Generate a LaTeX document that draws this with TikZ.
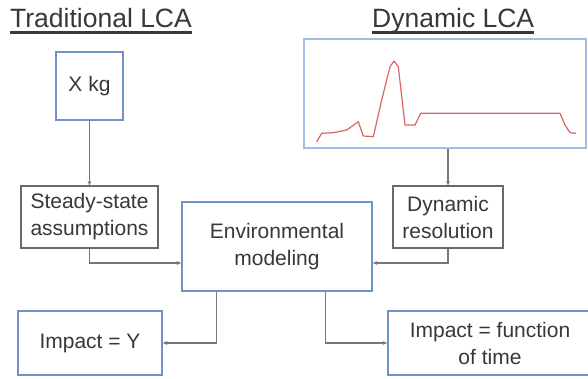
\documentclass[tikz,border=0pt]{standalone}
\usepackage{fontspec}
\setmainfont{Liberation Sans}
\usetikzlibrary{arrows.meta}
\definecolor{boxblue}{RGB}{112,146,200}
\definecolor{paleblue}{RGB}{160,190,228}
\definecolor{boxgray}{RGB}{105,105,105}
\definecolor{txtgray}{RGB}{55,55,60}
\definecolor{curvered}{RGB}{222,100,100}
\begin{document}
\begin{tikzpicture}[x=1pt, y=-1pt,
  bluebox/.style={draw=boxblue, line width=1.8pt, align=center, inner sep=0pt},
  graybox/.style={draw=boxgray, line width=1.3pt, align=center, inner sep=0pt},
  link/.style={draw=boxgray!90, line width=1.1pt, -{Stealth[length=4.5pt,width=4pt]}}]
\tikzstyle{every node}+=[text=txtgray, font=\fontsize{21}{27}\selectfont]
\clip (0,0) rectangle (588,378);
% titles
\node[anchor=base west, inner sep=0pt, font=\fontsize{26.5}{30}\selectfont] (ttrad) at (10,27) {Traditional LCA};
\node[anchor=base west, inner sep=0pt, font=\fontsize{26.5}{30}\selectfont] (tdyn) at (372,27) {Dynamic LCA};
\draw[txtgray, line width=2.4pt] ([yshift=-5.5pt]ttrad.base west) -- ([yshift=-5.5pt]ttrad.base east);
\draw[txtgray, line width=2.4pt] ([yshift=-5.5pt]tdyn.base west) -- ([yshift=-5.5pt]tdyn.base east);
% boxes
\node[bluebox, minimum width=67pt, minimum height=68pt] (xkg) at (89.5,86) {X kg};
\node[graybox, minimum width=137pt, minimum height=62pt] (steady) at (89.5,217) {Steady-state\\assumptions};
\node[bluebox, draw=paleblue, minimum width=282pt, minimum height=109pt] (dyn) at (445,93.5) {};
\node[graybox, minimum width=110pt, minimum height=62pt] (dynres) at (448,217) {Dynamic\\resolution};
\node[bluebox, minimum width=190pt, minimum height=89pt] (env) at (277,246.5) {Environmental\\modeling};
\node[bluebox, minimum width=144pt, minimum height=64pt] (impy) at (90,343) {Impact = Y};
\node[bluebox, minimum width=204pt, minimum height=64pt] (impf) at (490,343) {Impact = function\\of time};
% emission profile
\draw[curvered, line width=1.2pt, line join=round] plot coordinates {(316.7,141.7) (321.7,133.3) (333.3,132.7) (346.7,130) (358.3,121.7) (363.3,136) (373.3,136.7) (381.7,100) (390,66.7) (394,61) (398.3,66.7) (405,125) (415,125) (420.7,113.3) (560,113.3) (565,125) (570,132.7) (576,133.3)};
% connectors
\draw[link] (xkg.south) -- (steady.north);
\draw[link] (dynres.north |- dyn.south) -- (dynres.north);
\draw[link] (steady.south) |- ([yshift=-16.5pt]env.west);
\draw[link] (dynres.south) |- ([yshift=-16.5pt]env.east);
\draw[link] ([xshift=35pt]env.south west) |- (impy.east);
\draw[link] ([xshift=-47pt]env.south east) |- (impf.west);
\end{tikzpicture}
\end{document}
